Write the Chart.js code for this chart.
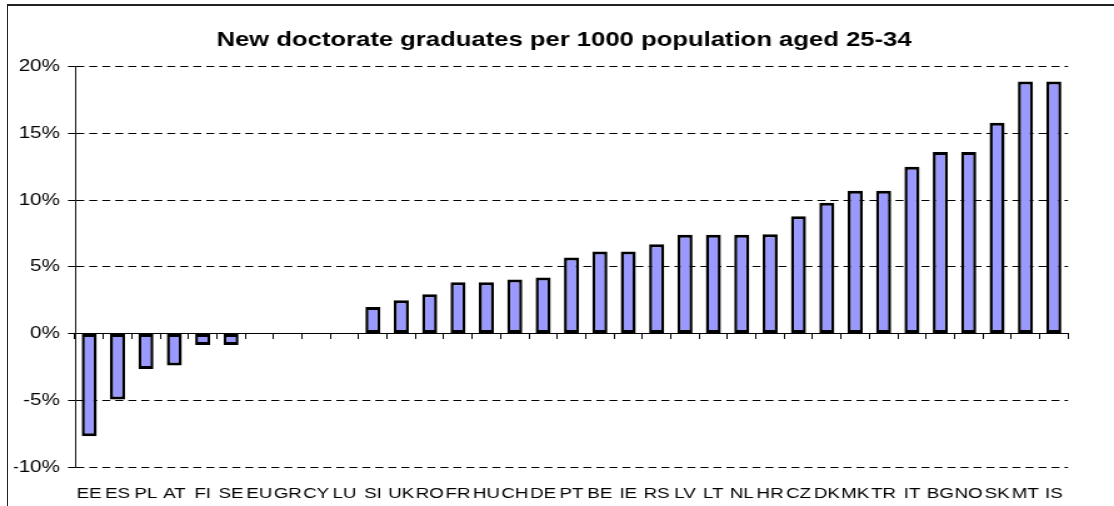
<!DOCTYPE html>
<html>
<head>
<meta charset="utf-8">
<title>New doctorate graduates per 1000 population aged 25-34</title>
<script src="https://cdn.jsdelivr.net/npm/chart.js@4/dist/chart.umd.min.js"></script>
<style>
  html, body { margin: 0; padding: 0; background: #fff; overflow: hidden; }
  body { width: 1114px; height: 506px; position: relative; }
  #frame { position: absolute; left: 7px; top: 4px; width: 1200px; height: 600px;
           border-top: 2px solid #222; border-left: 1px solid #222; }
  /* the original picture is stretched sideways, so the canvas is too */
  #wrap { position: absolute; left: 0; top: 0; width: 891px; height: 506px;
          transform: scaleX(1.25028); transform-origin: 0 0; }
</style>
</head>
<body>
<div id="frame"></div>
<div id="wrap"><canvas id="mainChart"></canvas></div>
<script>
const chartTitle = "New doctorate graduates per 1000 population aged 25-34";

const countries = ['EE', 'ES', 'PL', 'AT', 'FI', 'SE', 'EU', 'GR', 'CY', 'LU',
  'SI', 'UK', 'RO', 'FR', 'HU', 'CH', 'DE', 'PT', 'BE', 'IE',
  'RS', 'LV', 'LT', 'NL', 'HR', 'CZ', 'DK', 'MK', 'TR', 'IT',
  'BG', 'NO', 'SK', 'MT', 'IS'];

const growth = [-7.7, -4.95, -2.65, -2.4, -0.85, -0.85, 0, 0, 0, 0,
  2.0, 2.5, 2.95, 3.85, 3.85, 4.05, 4.2, 5.7, 6.15, 6.15,
  6.7, 7.4, 7.4, 7.4, 7.45, 8.8, 9.8, 10.7, 10.7, 12.5,
  13.6, 13.6, 15.8, 18.9, 18.9];

const yTickValues = [-10, -5, 0, 5, 10, 15, 20];

const FONT = "'Liberation Sans', Arial, Helvetica, sans-serif";

const ctx = document.getElementById('mainChart').getContext('2d');

new Chart(ctx, {
  type: 'bar',
  data: {
    labels: countries,
    datasets: [{
      data: growth,
      backgroundColor: '#9999ff',
      borderColor: '#000',
      borderWidth: { top: 3, bottom: 3, left: 2.5, right: 2.5 },
      borderSkipped: false,
      barPercentage: 0.53,
      categoryPercentage: 1
    }]
  },
  options: {
    responsive: true,
    maintainAspectRatio: false,
    animation: false,
    layout: { padding: { left: 11.2, right: 0, top: 0, bottom: 3 } },
    plugins: {
      legend: { display: false },
      tooltip: { enabled: false },
      title: {
        display: true,
        text: chartTitle,
        color: '#000',
        font: { family: FONT, size: 20.5, weight: 'bold', lineHeight: 1.2 },
        padding: { top: 28.3, bottom: 13.8 }
      }
    },
    scales: {
      x: {
        type: 'category',
        offset: true,
        grid: { display: false, drawTicks: true, tickLength: 18 },
        border: { display: false },
        ticks: {
          color: '#000',
          font: { family: FONT, size: 15, lineHeight: 1.2 },
          padding: 0,
          autoSkip: false,
          maxRotation: 0,
          minRotation: 0
        }
      },
      // axis line through 0% with the small category ticks
      x0: {
        axis: 'x',
        type: 'category',
        position: { y: 0 },
        offset: true,
        grid: {
          display: true, offset: true, drawOnChartArea: false,
          drawTicks: true, tickLength: 5, color: '#000', tickColor: '#000', tickBorderDash: []
        },
        border: { display: true, color: '#000', width: 1 },
        ticks: { display: false },
        afterFit: s => { s.height = 0; }
      },
      y: {
        min: yTickValues[0],
        max: yTickValues[yTickValues.length - 1],
        ticks: {
          stepSize: yTickValues[1] - yTickValues[0],
          callback: v => v + '%',
          color: '#000',
          font: { family: FONT, size: 16.5 },
          padding: 6.5
        },
        grid: {
          color: '#000', lineWidth: 1,
          drawTicks: true, tickLength: 5.6, tickColor: '#000', tickBorderDash: []
        },
        border: { display: true, color: '#222', width: 1, dash: [6.4, 4] },
        afterFit: s => { s.width = 48.8; }
      },
      // empty space on the right, keeps the title where it was
      yPad: {
        axis: 'y',
        position: 'right',
        display: true,
        grid: { display: false },
        border: { display: false },
        ticks: { display: false },
        afterFit: s => { s.width = 36.8; }
      }
    }
  }
});
</script>
</body>
</html>
